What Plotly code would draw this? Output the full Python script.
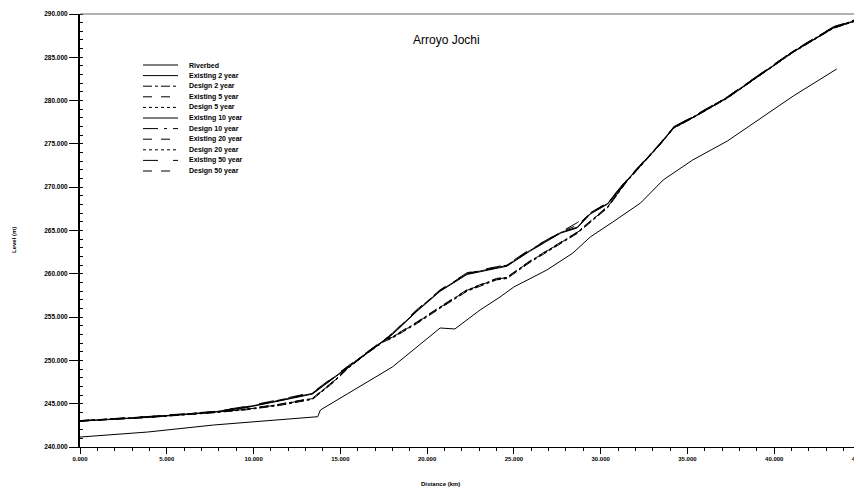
import plotly.graph_objects as go

# ---------------- data ----------------
bed_dist = [0, 3.9, 7.7, 11.5, 13.4, 13.7, 13.85, 15.0, 18.0, 20.75, 21.6, 23.05, 24.2, 25.0,
            26.9, 28.4, 29.4, 30.7, 32.3, 33.6, 35.3, 37.3, 39.2, 41.1, 43.6]
riverbed = [241.15, 241.73, 242.54, 243.12, 243.46, 243.50, 244.27, 245.66, 249.24, 253.74,
            253.63, 255.82, 257.32, 258.48, 260.44, 262.40, 264.25, 265.98, 268.18, 270.83,
            273.14, 275.33, 277.88, 280.53, 283.65]

ws_dist = [0, 3.9, 7.7, 9.6, 11.5, 13.4, 14.6, 15.5, 16.5, 17.5, 18.0, 19.4, 20.75, 22.3, 24.0,
           24.6, 25.9, 27.7, 28.65, 29.4, 30.4, 31.5, 33.4, 34.2, 35.3, 37.3, 39.2, 41.1, 43.4, 44.8]

existing_2 = [242.98, 243.42, 244.00, 244.56, 245.32, 246.12, 247.92, 249.26, 250.76, 252.20, 252.98,
              255.64, 257.98, 259.92, 260.62, 260.88, 262.58, 264.70, 265.30, 266.90, 268.05, 270.72,
              274.88, 276.82, 278.00, 280.30, 282.95, 285.60, 288.36, 289.28]
existing_5 = [243.00, 243.45, 244.03, 244.60, 245.36, 246.16, 247.96, 249.30, 250.80, 252.25, 253.03,
              255.70, 258.02, 259.98, 260.68, 260.93, 262.64, 264.75, 265.35, 266.94, 268.10, 270.76,
              274.92, 276.86, 278.04, 280.34, 282.98, 285.64, 288.40, 289.32]
existing_10 = [243.01, 243.47, 244.05, 244.62, 245.39, 246.19, 247.99, 249.32, 250.82, 252.28, 253.06,
               255.73, 258.05, 260.01, 260.71, 260.96, 262.67, 264.78, 265.38, 266.96, 268.12, 270.78,
               274.94, 276.88, 278.06, 280.36, 283.00, 285.66, 288.42, 289.34]
existing_20 = [243.02, 243.49, 244.07, 244.65, 245.43, 246.24, 248.03, 249.35, 250.85, 252.32, 253.10,
               255.78, 258.10, 260.06, 260.76, 261.00, 262.72, 264.82, 265.60, 267.00, 268.16, 270.82,
               274.97, 276.92, 278.10, 280.40, 283.04, 285.70, 288.46, 289.38]
existing_50 = [243.05, 243.52, 244.10, 244.70, 245.48, 246.30, 248.10, 249.40, 250.90, 252.38, 253.15,
               255.85, 258.15, 260.12, 260.82, 261.05, 262.80, 264.88, 265.90, 267.05, 268.22, 270.88,
               275.02, 276.98, 278.15, 280.45, 283.10, 285.75, 288.52, 289.45]

design_2 = [242.98, 243.40, 243.95, 244.30, 244.80, 245.50, 247.45, 249.18, 250.74, 252.15, 252.58,
            254.24, 256.02, 257.98, 259.30, 259.45, 261.28, 263.46, 264.66, 265.92, 267.62, 270.62,
            274.86, 276.80, 277.98, 280.28, 282.92, 285.58, 288.34, 289.26]
design_5 = [243.00, 243.43, 243.98, 244.33, 244.85, 245.55, 247.50, 249.22, 250.78, 252.20, 252.63,
            254.30, 256.08, 258.04, 259.36, 259.50, 261.34, 263.52, 264.72, 265.98, 267.68, 270.66,
            274.90, 276.84, 278.02, 280.32, 282.97, 285.62, 288.38, 289.30]
design_10 = [243.01, 243.46, 244.01, 244.36, 244.89, 245.59, 247.54, 249.26, 250.82, 252.25, 252.68,
             254.35, 256.13, 258.09, 259.40, 259.55, 261.39, 263.56, 264.76, 266.02, 267.72, 270.70,
             274.93, 276.88, 278.06, 280.36, 283.01, 285.66, 288.43, 289.35]
design_20 = [243.03, 243.48, 244.03, 244.38, 244.92, 245.62, 247.57, 249.28, 250.85, 252.28, 252.72,
             254.38, 256.17, 258.13, 259.43, 259.58, 261.42, 263.59, 264.79, 266.05, 267.75, 270.72,
             274.96, 276.91, 278.09, 280.39, 283.04, 285.69, 288.47, 289.39]
design_50 = [243.05, 243.50, 244.05, 244.40, 244.95, 245.65, 247.60, 249.30, 250.88, 252.30, 252.75,
             254.42, 256.20, 258.16, 259.46, 259.62, 261.45, 263.62, 264.82, 266.08, 267.78, 270.75,
             274.98, 276.94, 278.12, 280.42, 283.07, 285.73, 288.50, 289.42]

series_names = ["Riverbed", "Existing 2 year", "Design 2 year", "Existing 5 year", "Design 5 year",
                "Existing 10 year", "Design 10 year", "Existing 20 year", "Design 20 year",
                "Existing 50 year", "Design 50 year"]
series_values = [riverbed, existing_2, design_2, existing_5, design_5, existing_10, design_10,
                 existing_20, design_20, existing_50, design_50]
series_dist = [bed_dist] + [ws_dist] * 10
series_dash = ["solid", "solid", "dashdot", "dash", "dot", "solid", "longdashdot", "dash", "dot",
               "longdash", "dash"]

x_ticks = [0, 5, 10, 15, 20, 25, 30, 35, 40, 45]
y_ticks = [240, 245, 250, 255, 260, 265, 270, 275, 280, 285, 290]

# ---------------- layout helpers (page pixel -> paper) ----------------
OFF = 8  # default page body margin
W, H = 854, 479
L, R, T, B = 72, 1, 6, 40
PW, PH = W - L - R, H - T - B


def px(x):
    return (x - OFF - L) / PW


def py(y):
    return (H - B - (y - OFF)) / PH


fig = go.Figure()
for name, xs, ys, dash in zip(series_names, series_dist, series_values, series_dash):
    fig.add_trace(go.Scatter(x=xs, y=ys, mode="lines", name=name, showlegend=False,
                             line=dict(color="black", width=1, dash=dash)))

shapes = []
annotations = []
# manual legend (compact like the original)
for i, (name, dash) in enumerate(zip(series_names, series_dash)):
    yc = 65 + 10.6 * i
    shapes.append(dict(type="line", xref="paper", yref="paper", x0=px(143), x1=px(178),
                       y0=py(yc), y1=py(yc), line=dict(color="black", width=1, dash=dash)))
    annotations.append(dict(xref="paper", yref="paper", x=px(187), y=py(yc), text=name,
                            showarrow=False, xanchor="left", yanchor="middle",
                            font=dict(size=7, color="black", family="Liberation Sans",
                                      weight="bold")))

# top frame line
shapes.append(dict(type="line", xref="paper", yref="paper", x0=0, x1=1.01, y0=1, y1=1,
                   line=dict(color="#666666", width=1)))

annotations.append(dict(xref="paper", yref="paper", x=px(446), y=py(40), text="Arroyo Jochi",
                        showarrow=False, xanchor="center", yanchor="middle",
                        font=dict(size=12, color="black", family="Liberation Sans")))
annotations.append(dict(xref="paper", yref="paper", x=px(440), y=py(484), text="Distance (km)",
                        showarrow=False, xanchor="center", yanchor="middle",
                        font=dict(size=6, color="black", family="Liberation Sans", weight="bold")))
annotations.append(dict(xref="paper", yref="paper", x=px(14), y=py(240), text="Level (m)",
                        showarrow=False, xanchor="center", yanchor="middle", textangle=-90,
                        font=dict(size=6, color="black", family="Liberation Sans", weight="bold")))

fig.update_layout(
    width=W, height=H,
    margin=dict(l=L, r=R, t=T, b=B),
    paper_bgcolor="white", plot_bgcolor="white",
    showlegend=False,
    shapes=shapes, annotations=annotations,
    font=dict(family="Liberation Sans", color="black"),
    xaxis=dict(range=[0, 45], tickvals=x_ticks, tickformat=".3f", showgrid=False, zeroline=False,
               automargin=False, showline=True, linecolor="black", linewidth=1, ticks="outside",
               ticklen=6, tickcolor="black", ticklabeloverflow="allow",
               tickfont=dict(size=6, color="black", weight="bold"),
               minor=dict(dtick=1, ticks="outside", ticklen=3, tickcolor="black")),
    yaxis=dict(range=[240, 290], tickvals=y_ticks, tickformat=".3f", showgrid=False, zeroline=False,
               automargin=False, showline=True, linecolor="black", linewidth=2, ticks="outside",
               ticklen=9, tickcolor="black", ticklabeloverflow="allow",
               tickfont=dict(size=6.5, color="black", weight="bold"),
               minor=dict(dtick=1, ticks="inside", ticklen=3, tickcolor="black")),
)

fig.write_html("out.html")
